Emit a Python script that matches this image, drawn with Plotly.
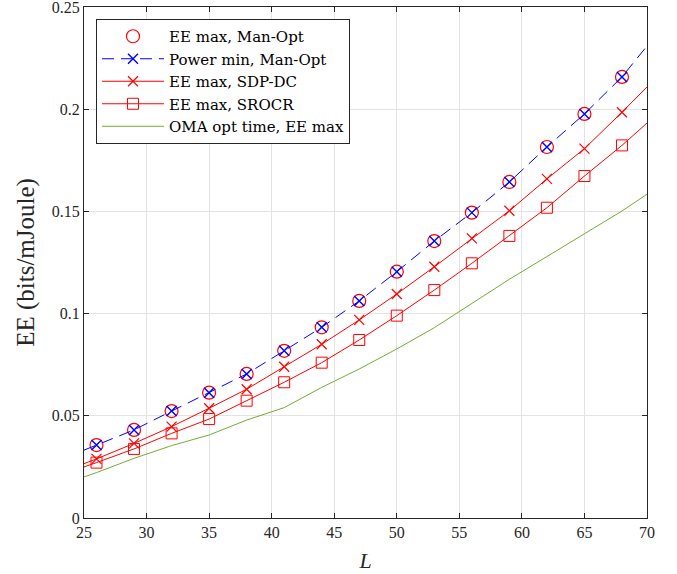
import plotly.graph_objects as go

# Marker positions (L values) and read values
L_marks = [26, 29, 32, 35, 38, 41, 44, 47, 50, 53, 56, 59, 62, 65, 68]
L_line = [25] + L_marks + [70]

ee_manopt = [0.0357, 0.0431, 0.0523, 0.0613, 0.0705, 0.0818, 0.0933, 0.1062,
             0.1205, 0.1355, 0.1494, 0.1644, 0.1815, 0.1977, 0.2158]
pmin_manopt = [0.0332, 0.0357, 0.0431, 0.0523, 0.0613, 0.0705, 0.0818, 0.0933, 0.1062,
               0.1205, 0.1355, 0.1494, 0.1644, 0.1815, 0.1977, 0.2158, 0.2309]
ee_sdpdc = [0.0266, 0.0289, 0.0365, 0.0447, 0.0537, 0.0630, 0.0740, 0.0850, 0.0969,
            0.1096, 0.1229, 0.1368, 0.1503, 0.1659, 0.1807, 0.1985, 0.2109]
ee_srocr = [0.0250, 0.0271, 0.0338, 0.0414, 0.0484, 0.0574, 0.0664, 0.0760, 0.0871,
            0.0990, 0.1115, 0.1246, 0.1380, 0.1518, 0.1673, 0.1823, 0.1932]
oma_ee = [0.0201, 0.0222, 0.0292, 0.0354, 0.0406, 0.0479, 0.0540, 0.0639, 0.0729,
          0.0827, 0.0931, 0.1050, 0.1168, 0.1279, 0.1389, 0.1502, 0.1584]

x_ticks = [25, 30, 35, 40, 45, 50, 55, 60, 65, 70]
y_ticks = [0, 0.05, 0.1, 0.15, 0.2, 0.25]
y_ticktext = ["0", "0.05", "0.1", "0.15", "0.2", "0.25"]

names = ["EE max, Man-Opt", "Power min, Man-Opt", "EE max, SDP-DC",
         "EE max, SROCR", "OMA opt time, EE max"]

RED = "rgb(255,0,0)"
BLUE = "rgb(0,0,255)"
GREEN = "rgb(119,172,48)"
DASH = "12px,7px"

fig = go.Figure()

# data lines (no legend)
fig.add_trace(go.Scatter(x=L_line, y=oma_ee, mode="lines", showlegend=False,
                         line=dict(color=GREEN, width=1)))
fig.add_trace(go.Scatter(x=L_line, y=ee_srocr, mode="lines", showlegend=False,
                         line=dict(color=RED, width=1)))
fig.add_trace(go.Scatter(x=L_marks, y=ee_srocr[1:-1], mode="markers", showlegend=False,
                         marker=dict(symbol="square-open", size=11, color=RED,
                                     line=dict(width=1, color=RED))))
fig.add_trace(go.Scatter(x=L_line, y=ee_sdpdc, mode="lines", showlegend=False,
                         line=dict(color=RED, width=1)))
fig.add_trace(go.Scatter(x=L_marks, y=ee_sdpdc[1:-1], mode="markers", showlegend=False,
                         marker=dict(symbol="x-thin-open", size=10, color=RED,
                                     line=dict(width=1.2, color=RED))))
fig.add_trace(go.Scatter(x=L_marks, y=ee_manopt, mode="markers", showlegend=False,
                         marker=dict(symbol="circle-open", size=13, color=RED,
                                     line=dict(width=1.2, color=RED))))
fig.add_trace(go.Scatter(x=L_line, y=pmin_manopt, mode="lines", showlegend=False,
                         line=dict(color=BLUE, width=1, dash=DASH)))
fig.add_trace(go.Scatter(x=L_marks, y=pmin_manopt[1:-1], mode="markers", showlegend=False,
                         marker=dict(symbol="x-thin-open", size=10, color=BLUE,
                                     line=dict(width=1.4, color=BLUE))))

# legend entries
fig.add_trace(go.Scatter(x=[None], y=[None], mode="markers", name=names[0],
                         marker=dict(symbol="circle-open", size=13, color=RED,
                                     line=dict(width=1.2, color=RED))))
fig.add_trace(go.Scatter(x=[None], y=[None], mode="lines+markers", name=names[1],
                         line=dict(color=BLUE, width=1, dash=DASH),
                         marker=dict(symbol="x-thin-open", size=10, color=BLUE,
                                     line=dict(width=1.4, color=BLUE))))
fig.add_trace(go.Scatter(x=[None], y=[None], mode="lines+markers", name=names[2],
                         line=dict(color=RED, width=1),
                         marker=dict(symbol="x-thin-open", size=10, color=RED,
                                     line=dict(width=1.2, color=RED))))
fig.add_trace(go.Scatter(x=[None], y=[None], mode="lines+markers", name=names[3],
                         line=dict(color=RED, width=1),
                         marker=dict(symbol="square-open", size=11, color=RED,
                                     line=dict(width=1, color=RED))))
fig.add_trace(go.Scatter(x=[None], y=[None], mode="lines", name=names[4],
                         line=dict(color=GREEN, width=1)))

FONT = "Liberation Serif"
axis_common = dict(showline=True, linecolor="#262626", linewidth=1, mirror="ticks",
                   ticks="inside", ticklen=5, tickcolor="#262626", automargin=False,
                   ticklabeloverflow="allow",
                   showgrid=True, gridcolor="#e3e3e3", gridwidth=1, zeroline=False,
                   tickfont=dict(family=FONT, size=16, color="#262626"))

fig.update_layout(
    width=677, height=574,
    margin=dict(l=84, r=30, t=7, b=56),
    paper_bgcolor="white", plot_bgcolor="white",
    font=dict(family=FONT, color="#262626"),
    xaxis=dict(range=[25, 70], tickvals=x_ticks,
               title=dict(text="<i>L</i>", font=dict(family=FONT, size=22), standoff=12),
               **axis_common),
    yaxis=dict(range=[0, 0.25], tickvals=y_ticks, ticktext=y_ticktext,
               title=dict(text="EE (bits/mJoule)", font=dict(family=FONT, size=25), standoff=10),
               **axis_common),
    legend=dict(x=0.0213, y=0.9765, xanchor="left", yanchor="top",
                bgcolor="white", bordercolor="#262626", borderwidth=1,
                font=dict(family="DejaVu Serif", size=15, color="black"),
                tracegroupgap=0, itemwidth=62),
)

fig.write_html("out.html", config={"displayModeBar": False},
               post_script="document.body.style.margin='0';")
